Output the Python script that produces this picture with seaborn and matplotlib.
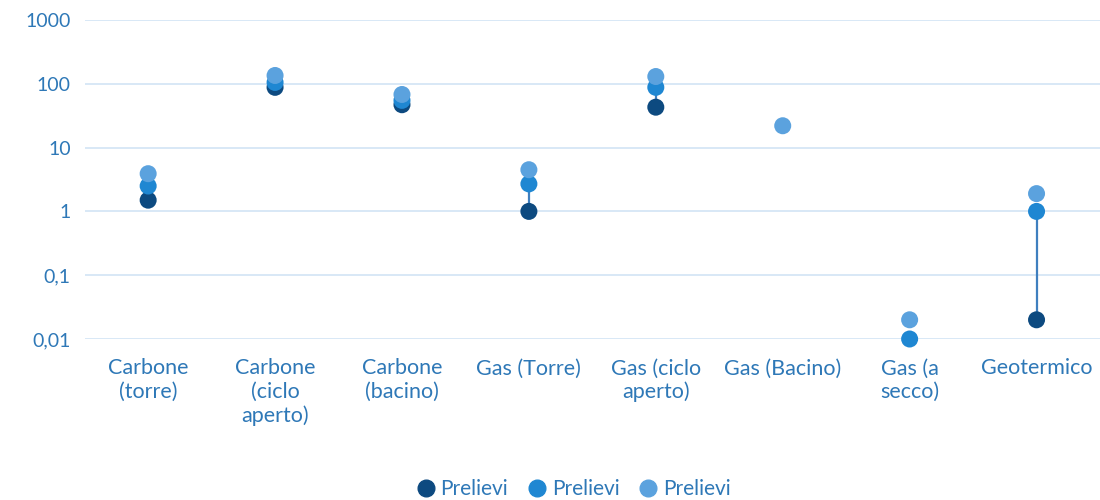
import numpy as np
import pandas as pd
import matplotlib
matplotlib.use("Agg")
import matplotlib.pyplot as plt
import seaborn as sns

categories = ["Carbone\n(torre)", "Carbone\n(ciclo\naperto)", "Carbone\n(bacino)", "Gas (Torre)",
              "Gas (ciclo\naperto)", "Gas (Bacino)", "Gas (a\nsecco)", "Geotermico"]
prelievi_dark = [1.5, 88, 47, 1.0, 43, np.nan, np.nan, 0.02]
prelievi_mid = [2.5, 105, 55, 2.7, 88, np.nan, 0.01, 1.0]
prelievi_light = [3.9, 135, 68, 4.5, 130, 22, 0.02, 1.9]
series_labels = ["Prelievi", "Prelievi", "Prelievi"]
y_ticks = [0.01, 0.1, 1, 10, 100, 1000]
y_tick_labels = ["0,01", "0,1", "1", "10", "100", "1000"]

colors = ["#0d4a80", "#1f87d2", "#5ba2de"]
text_color = "#2e78b7"

sns.set_style("white")
plt.rcParams["font.family"] = ["Lato", "DejaVu Sans"]

df = pd.DataFrame({
    "cat": list(range(len(categories))) * 3,
    "value": prelievi_dark + prelievi_mid + prelievi_light,
    "series": ["s0"] * 8 + ["s1"] * 8 + ["s2"] * 8,
}).dropna()

fig = plt.figure(figsize=(11, 5), dpi=100)
ax = fig.add_axes([0.077, 0.322, 0.923, 0.638])
ax.set_yscale("log")
ax.set_ylim(0.01, 1000)
ax.set_xlim(-0.5, len(categories) - 0.5)

for y in y_ticks:
    ax.axhline(y, color="#d5e6f6", lw=1.3, zorder=0)

# high-low line between dark and mid series
lo = np.fmin(prelievi_dark, prelievi_mid)
hi = np.fmax(prelievi_dark, prelievi_mid)
ax.vlines(range(len(categories)), lo, hi, color="#3f7fbf", lw=1.6, zorder=1)

sns.scatterplot(data=df, x="cat", y="value", hue="series", palette=colors,
                s=150, linewidth=0, alpha=1, ax=ax, zorder=3, legend=False, clip_on=False)

ax.set_xticks(range(len(categories)))
ax.set_xticklabels(categories, color=text_color, fontsize=15.5, va="top", linespacing=1.2)
ax.set_yticks(y_ticks)
ax.set_yticklabels(y_tick_labels, color=text_color, fontsize=14)
ax.minorticks_off()
ax.tick_params(axis="x", length=0, pad=14)
ax.tick_params(axis="y", length=0, pad=10)
ax.set_xlabel("")
ax.set_ylabel("")
sns.despine(ax=ax, left=True, bottom=True)

handles = [plt.Line2D([], [], marker="o", ls="", color=c, markersize=12) for c in colors]
fig.legend(handles, series_labels, loc="center", bbox_to_anchor=(0.519, 0.022), ncol=3,
           frameon=False, fontsize=15, labelcolor=text_color, handletextpad=0.0,
           columnspacing=0.7, handlelength=1.4)

fig.savefig("out.png", dpi=100)
